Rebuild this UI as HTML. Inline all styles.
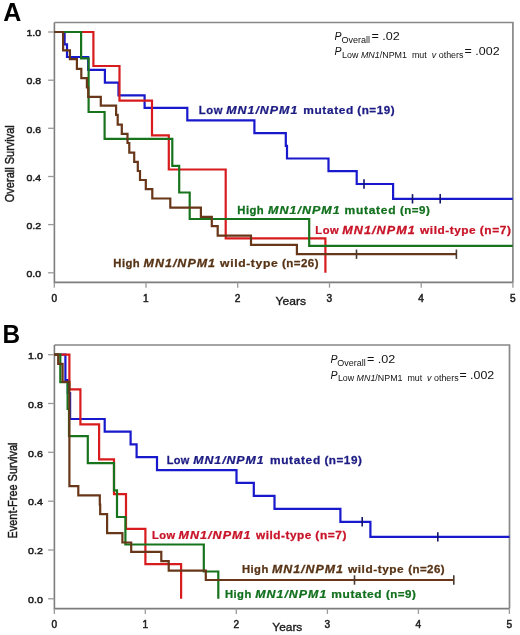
<!DOCTYPE html><html><head><meta charset="utf-8"><style>html,body{margin:0;padding:0;background:#fff;}svg{display:block;}</style></head><body>
<svg style="will-change:transform" width="520" height="635" viewBox="0 0 520 635" font-family='"Liberation Sans", sans-serif'>
<path d="M54.4 22.5 H512.9 V282.4" fill="none" stroke="#888" stroke-width="1.7"/>
<path d="M54.4 22.5 V282.4 H512.9" fill="none" stroke="#7c7c7c" stroke-width="1.6"/>
<line x1="48.1" y1="272.8" x2="54.4" y2="272.8" stroke="#9a9a9a" stroke-width="1.3"/>
<text x="26.4" y="277.0" font-size="9.70" font-weight="normal" font-style="normal" fill="#222" text-anchor="start" textLength="14.6" lengthAdjust="spacingAndGlyphs" stroke="#222" stroke-width="0.5">0.0</text>
<line x1="48.1" y1="224.6" x2="54.4" y2="224.6" stroke="#9a9a9a" stroke-width="1.3"/>
<text x="26.4" y="228.8" font-size="9.70" font-weight="normal" font-style="normal" fill="#222" text-anchor="start" textLength="14.6" lengthAdjust="spacingAndGlyphs" stroke="#222" stroke-width="0.5">0.2</text>
<line x1="48.1" y1="176.5" x2="54.4" y2="176.5" stroke="#9a9a9a" stroke-width="1.3"/>
<text x="26.4" y="180.7" font-size="9.70" font-weight="normal" font-style="normal" fill="#222" text-anchor="start" textLength="14.6" lengthAdjust="spacingAndGlyphs" stroke="#222" stroke-width="0.5">0.4</text>
<line x1="48.1" y1="128.3" x2="54.4" y2="128.3" stroke="#9a9a9a" stroke-width="1.3"/>
<text x="26.4" y="132.5" font-size="9.70" font-weight="normal" font-style="normal" fill="#222" text-anchor="start" textLength="14.6" lengthAdjust="spacingAndGlyphs" stroke="#222" stroke-width="0.5">0.6</text>
<line x1="48.1" y1="80.2" x2="54.4" y2="80.2" stroke="#9a9a9a" stroke-width="1.3"/>
<text x="26.4" y="84.4" font-size="9.70" font-weight="normal" font-style="normal" fill="#222" text-anchor="start" textLength="14.6" lengthAdjust="spacingAndGlyphs" stroke="#222" stroke-width="0.5">0.8</text>
<line x1="48.1" y1="32.0" x2="54.4" y2="32.0" stroke="#9a9a9a" stroke-width="1.3"/>
<text x="26.4" y="36.2" font-size="9.70" font-weight="normal" font-style="normal" fill="#222" text-anchor="start" textLength="14.6" lengthAdjust="spacingAndGlyphs" stroke="#222" stroke-width="0.5">1.0</text>
<line x1="54.3" y1="282.4" x2="54.3" y2="287.7" stroke="#9a9a9a" stroke-width="1.3"/>
<text x="54.2" y="301.5" font-size="10.10" font-weight="normal" font-style="normal" fill="#222" text-anchor="middle" stroke="#222" stroke-width="0.5">0</text>
<line x1="146.0" y1="282.4" x2="146.0" y2="287.7" stroke="#9a9a9a" stroke-width="1.3"/>
<text x="145.9" y="301.5" font-size="10.10" font-weight="normal" font-style="normal" fill="#222" text-anchor="middle" stroke="#222" stroke-width="0.5">1</text>
<line x1="237.7" y1="282.4" x2="237.7" y2="287.7" stroke="#9a9a9a" stroke-width="1.3"/>
<text x="237.6" y="301.5" font-size="10.10" font-weight="normal" font-style="normal" fill="#222" text-anchor="middle" stroke="#222" stroke-width="0.5">2</text>
<line x1="329.5" y1="282.4" x2="329.5" y2="287.7" stroke="#9a9a9a" stroke-width="1.3"/>
<text x="329.4" y="301.5" font-size="10.10" font-weight="normal" font-style="normal" fill="#222" text-anchor="middle" stroke="#222" stroke-width="0.5">3</text>
<line x1="421.2" y1="282.4" x2="421.2" y2="287.7" stroke="#9a9a9a" stroke-width="1.3"/>
<text x="421.1" y="301.5" font-size="10.10" font-weight="normal" font-style="normal" fill="#222" text-anchor="middle" stroke="#222" stroke-width="0.5">4</text>
<line x1="512.9" y1="282.4" x2="512.9" y2="287.7" stroke="#9a9a9a" stroke-width="1.3"/>
<text x="512.8" y="301.5" font-size="10.10" font-weight="normal" font-style="normal" fill="#222" text-anchor="middle" stroke="#222" stroke-width="0.5">5</text>
<text x="3.2" y="21.0" font-size="25.00" font-weight="bold" font-style="normal" fill="#000" text-anchor="start" >A</text>
<text x="0.0" y="0.0" font-size="13.40" font-weight="normal" font-style="normal" fill="#1a1a1a" text-anchor="start" textLength="77.0" lengthAdjust="spacingAndGlyphs" transform="translate(13.8 202.2) rotate(-90)" stroke="#1a1a1a" stroke-width="0.45">Overall Survival</text>
<text x="275.6" y="304.7" font-size="11.80" font-weight="normal" font-style="normal" fill="#1a1a1a" text-anchor="start" textLength="30.4" lengthAdjust="spacingAndGlyphs" stroke="#1a1a1a" stroke-width="0.35">Years</text>
<path d="M54.3 32.0 H64.6 V44.4 H67.0 V57.0 H88.2 V69.9 H104.9 V82.6 H118.5 V95.4 H144.6 V107.8 H187.3 V120.4 H254.4 V133.1 H285.8 V145.8 H287.0 V158.5 H328.5 V171.2 H356.7 V184.0 H393.1 V198.8 H512.8" fill="none" stroke="#1818cc" stroke-width="2.20" stroke-linejoin="miter" stroke-linecap="butt"/>
<line x1="364.0" y1="179.3" x2="364.0" y2="188.7" stroke="#14146a" stroke-width="1.60"/>
<line x1="412.5" y1="194.1" x2="412.5" y2="203.5" stroke="#14146a" stroke-width="1.60"/>
<line x1="440.2" y1="194.1" x2="440.2" y2="203.5" stroke="#14146a" stroke-width="1.60"/>
<path d="M54.3 32.0 H93.4 V66.0 H119.5 V100.6 H152.0 V135.4 H168.8 V169.5 H225.7 V238.4 H325.4 V272.8" fill="none" stroke="#d81c1e" stroke-width="2.20" stroke-linejoin="miter" stroke-linecap="butt"/>
<path d="M54.3 32.0 H81.1 V58.3 H88.6 V112.0 H104.6 V138.9 H172.3 V165.8 H179.2 V192.5 H189.7 V219.0 H309.2 V245.9 H512.8" fill="none" stroke="#18741c" stroke-width="2.20" stroke-linejoin="miter" stroke-linecap="butt"/>
<path d="M54.3 32.0 H63.1 V50.4 H69.9 V59.2 H76.9 V68.9 H81.3 V78.2 H86.9 V87.5 H88.2 V96.8 H100.8 V105.6 H116.1 V114.8 H117.7 V124.6 H121.8 V133.8 H127.5 V143.0 H129.3 V152.6 H134.2 V161.8 H137.8 V171.0 H140.0 V180.0 H145.8 V189.2 H152.3 V198.5 H170.3 V207.6 H200.9 V216.9 H211.8 V226.2 H217.7 V235.7 H251.0 V244.8 H296.9 V254.2 H456.4" fill="none" stroke="#683618" stroke-width="2.20" stroke-linejoin="miter" stroke-linecap="butt"/>
<line x1="356.5" y1="249.5" x2="356.5" y2="258.9" stroke="#4a3a30" stroke-width="1.60"/>
<line x1="456.4" y1="249.5" x2="456.4" y2="258.9" stroke="#4a3a30" stroke-width="1.60"/>
<text x="183.34" y="113.9" font-size="10.40" font-weight="bold" fill="#1c1c84" stroke="#1c1c84" stroke-width="0.25" textLength="21.86" lengthAdjust="spacing" transform="scale(1.084 1)">Low</text>
<text x="189.69" y="113.9" font-size="10.40" font-weight="bold" fill="#1c1c84" stroke="#1c1c84" stroke-width="0.25" textLength="59.51" lengthAdjust="spacing" transform="scale(1.193 1)"><tspan font-style="italic">MN1/NPM1</tspan></text>
<text x="265.02" y="113.9" font-size="10.40" font-weight="bold" fill="#1c1c84" stroke="#1c1c84" stroke-width="0.25" textLength="43.81" lengthAdjust="spacing" transform="scale(1.144 1)">mutated</text>
<text x="318.51" y="113.9" font-size="10.40" font-weight="bold" fill="#1c1c84" stroke="#1c1c84" stroke-width="0.25" textLength="33.15" lengthAdjust="spacing" transform="scale(1.122 1)">(n=19)</text>
<text x="218.51" y="214.2" font-size="10.40" font-weight="bold" fill="#12701e" stroke="#12701e" stroke-width="0.25" textLength="24.31" lengthAdjust="spacing" transform="scale(1.086 1)">High</text>
<text x="223.39" y="214.2" font-size="10.40" font-weight="bold" fill="#12701e" stroke="#12701e" stroke-width="0.25" textLength="59.68" lengthAdjust="spacing" transform="scale(1.200 1)"><tspan font-style="italic">MN1/NPM1</tspan></text>
<text x="297.83" y="214.2" font-size="10.40" font-weight="bold" fill="#12701e" stroke="#12701e" stroke-width="0.25" textLength="44.08" lengthAdjust="spacing" transform="scale(1.157 1)">mutated</text>
<text x="359.69" y="214.2" font-size="10.40" font-weight="bold" fill="#12701e" stroke="#12701e" stroke-width="0.25" textLength="26.81" lengthAdjust="spacing" transform="scale(1.112 1)">(n=9)</text>
<text x="293.91" y="234.4" font-size="10.40" font-weight="bold" fill="#c81428" stroke="#c81428" stroke-width="0.25" textLength="21.72" lengthAdjust="spacing" transform="scale(1.073 1)">Low</text>
<text x="283.13" y="234.4" font-size="10.40" font-weight="bold" fill="#c81428" stroke="#c81428" stroke-width="0.25" textLength="59.90" lengthAdjust="spacing" transform="scale(1.209 1)"><tspan font-style="italic">MN1/NPM1</tspan></text>
<text x="368.15" y="234.4" font-size="10.40" font-weight="bold" fill="#c81428" stroke="#c81428" stroke-width="0.25" textLength="48.74" lengthAdjust="spacing" transform="scale(1.141 1)">wild-type</text>
<text x="418.19" y="234.4" font-size="10.40" font-weight="bold" fill="#c81428" stroke="#c81428" stroke-width="0.25" textLength="27.28" lengthAdjust="spacing" transform="scale(1.147 1)">(n=7)</text>
<text x="104.33" y="267.1" font-size="10.40" font-weight="bold" fill="#583416" stroke="#583416" stroke-width="0.25" textLength="24.31" lengthAdjust="spacing" transform="scale(1.086 1)">High</text>
<text x="119.72" y="267.1" font-size="10.40" font-weight="bold" fill="#583416" stroke="#583416" stroke-width="0.25" textLength="59.65" lengthAdjust="spacing" transform="scale(1.199 1)"><tspan font-style="italic">MN1/NPM1</tspan></text>
<text x="188.61" y="267.1" font-size="10.40" font-weight="bold" fill="#583416" stroke="#583416" stroke-width="0.25" textLength="49.34" lengthAdjust="spacing" transform="scale(1.167 1)">wild-type</text>
<text x="254.84" y="267.1" font-size="10.40" font-weight="bold" fill="#583416" stroke="#583416" stroke-width="0.25" textLength="32.89" lengthAdjust="spacing" transform="scale(1.107 1)">(n=26)</text>
<text x="334.6" y="39.7" font-size="10.50" font-weight="normal" font-style="italic" fill="#111" text-anchor="start" >P</text>
<text x="341.5" y="42.5" font-size="8.30" font-weight="normal" font-style="normal" fill="#111" text-anchor="start" textLength="28.6" lengthAdjust="spacingAndGlyphs" >Overall</text>
<text x="371.4" y="39.6" font-size="10.80" font-weight="normal" font-style="normal" fill="#111" text-anchor="start" textLength="28.4" lengthAdjust="spacingAndGlyphs" >= .02</text>
<text x="334.6" y="55.3" font-size="10.50" font-weight="normal" font-style="italic" fill="#111" text-anchor="start" >P</text>
<text x="342.1" y="57.8" font-size="8.30" font-weight="normal" font-style="normal" fill="#111" text-anchor="start" textLength="121.4" lengthAdjust="spacingAndGlyphs" >Low <tspan font-style="italic">MN1</tspan>/NPM1&#160; mut&#160; <tspan font-style="italic">v</tspan> others</text>
<text x="464.6" y="55.4" font-size="10.50" font-weight="normal" font-style="normal" fill="#111" text-anchor="start" textLength="35.0" lengthAdjust="spacingAndGlyphs" >= .002</text>
<path d="M54.4 345.0 H509.5 V608.6" fill="none" stroke="#888" stroke-width="1.7"/>
<path d="M54.4 345.0 V608.6 H509.5" fill="none" stroke="#7c7c7c" stroke-width="1.6"/>
<line x1="48.1" y1="598.8" x2="54.4" y2="598.8" stroke="#9a9a9a" stroke-width="1.3"/>
<text x="28.1" y="603.0" font-size="9.70" font-weight="normal" font-style="normal" fill="#222" text-anchor="start" textLength="14.8" lengthAdjust="spacingAndGlyphs" stroke="#222" stroke-width="0.5">0.0</text>
<line x1="48.1" y1="550.0" x2="54.4" y2="550.0" stroke="#9a9a9a" stroke-width="1.3"/>
<text x="28.1" y="554.2" font-size="9.70" font-weight="normal" font-style="normal" fill="#222" text-anchor="start" textLength="14.8" lengthAdjust="spacingAndGlyphs" stroke="#222" stroke-width="0.5">0.2</text>
<line x1="48.1" y1="501.2" x2="54.4" y2="501.2" stroke="#9a9a9a" stroke-width="1.3"/>
<text x="28.1" y="505.4" font-size="9.70" font-weight="normal" font-style="normal" fill="#222" text-anchor="start" textLength="14.8" lengthAdjust="spacingAndGlyphs" stroke="#222" stroke-width="0.5">0.4</text>
<line x1="48.1" y1="452.3" x2="54.4" y2="452.3" stroke="#9a9a9a" stroke-width="1.3"/>
<text x="28.1" y="456.5" font-size="9.70" font-weight="normal" font-style="normal" fill="#222" text-anchor="start" textLength="14.8" lengthAdjust="spacingAndGlyphs" stroke="#222" stroke-width="0.5">0.6</text>
<line x1="48.1" y1="403.5" x2="54.4" y2="403.5" stroke="#9a9a9a" stroke-width="1.3"/>
<text x="28.1" y="407.7" font-size="9.70" font-weight="normal" font-style="normal" fill="#222" text-anchor="start" textLength="14.8" lengthAdjust="spacingAndGlyphs" stroke="#222" stroke-width="0.5">0.8</text>
<line x1="48.1" y1="354.7" x2="54.4" y2="354.7" stroke="#9a9a9a" stroke-width="1.3"/>
<text x="28.1" y="358.9" font-size="9.70" font-weight="normal" font-style="normal" fill="#222" text-anchor="start" textLength="14.8" lengthAdjust="spacingAndGlyphs" stroke="#222" stroke-width="0.5">1.0</text>
<line x1="54.3" y1="608.6" x2="54.3" y2="613.9" stroke="#9a9a9a" stroke-width="1.3"/>
<text x="54.2" y="628.0" font-size="10.10" font-weight="normal" font-style="normal" fill="#222" text-anchor="middle" stroke="#222" stroke-width="0.5">0</text>
<line x1="145.3" y1="608.6" x2="145.3" y2="613.9" stroke="#9a9a9a" stroke-width="1.3"/>
<text x="145.2" y="628.0" font-size="10.10" font-weight="normal" font-style="normal" fill="#222" text-anchor="middle" stroke="#222" stroke-width="0.5">1</text>
<line x1="236.3" y1="608.6" x2="236.3" y2="613.9" stroke="#9a9a9a" stroke-width="1.3"/>
<text x="236.2" y="628.0" font-size="10.10" font-weight="normal" font-style="normal" fill="#222" text-anchor="middle" stroke="#222" stroke-width="0.5">2</text>
<line x1="327.4" y1="608.6" x2="327.4" y2="613.9" stroke="#9a9a9a" stroke-width="1.3"/>
<text x="327.3" y="628.0" font-size="10.10" font-weight="normal" font-style="normal" fill="#222" text-anchor="middle" stroke="#222" stroke-width="0.5">3</text>
<line x1="418.4" y1="608.6" x2="418.4" y2="613.9" stroke="#9a9a9a" stroke-width="1.3"/>
<text x="418.3" y="628.0" font-size="10.10" font-weight="normal" font-style="normal" fill="#222" text-anchor="middle" stroke="#222" stroke-width="0.5">4</text>
<line x1="509.4" y1="608.6" x2="509.4" y2="613.9" stroke="#9a9a9a" stroke-width="1.3"/>
<text x="509.3" y="628.0" font-size="10.10" font-weight="normal" font-style="normal" fill="#222" text-anchor="middle" stroke="#222" stroke-width="0.5">5</text>
<text x="2.6" y="343.4" font-size="25.00" font-weight="bold" font-style="normal" fill="#000" text-anchor="start" textLength="17.6" lengthAdjust="spacingAndGlyphs" >B</text>
<text x="0.0" y="0.0" font-size="13.20" font-weight="normal" font-style="normal" fill="#1a1a1a" text-anchor="start" textLength="96.0" lengthAdjust="spacingAndGlyphs" transform="translate(17.0 538.5) rotate(-90)" stroke="#1a1a1a" stroke-width="0.45">Event-Free Survival</text>
<text x="272.3" y="630.7" font-size="11.80" font-weight="normal" font-style="normal" fill="#1a1a1a" text-anchor="start" textLength="30.0" lengthAdjust="spacingAndGlyphs" stroke="#1a1a1a" stroke-width="0.35">Years</text>
<path d="M54.3 354.7 H65.4 V380.2 H67.8 V393.0 H70.1 V419.0 H104.7 V431.6 H130.6 V444.4 H136.6 V457.2 H157.0 V470.1 H236.5 V482.9 H253.8 V495.8 H274.5 V508.9 H340.4 V521.8 H370.4 V536.9 H509.5" fill="none" stroke="#1818cc" stroke-width="2.20" stroke-linejoin="miter" stroke-linecap="butt"/>
<line x1="362.2" y1="517.1" x2="362.2" y2="526.5" stroke="#14146a" stroke-width="1.60"/>
<line x1="437.8" y1="532.2" x2="437.8" y2="541.6" stroke="#14146a" stroke-width="1.60"/>
<path d="M54.3 354.7 H69.4 V389.4 H80.4 V424.4 H99.1 V459.3 H114.0 V494.1 H126.0 V528.9 H145.4 V564.1 H181.1 V598.8" fill="none" stroke="#d81c1e" stroke-width="2.20" stroke-linejoin="miter" stroke-linecap="butt"/>
<path d="M54.3 354.7 H60.3 V382.1 H67.6 V409.0 H69.0 V436.1 H87.8 V463.1 H114.0 V490.4 H117.0 V517.0 H125.4 V544.5 H203.8 V571.5 H218.3 V598.8" fill="none" stroke="#18741c" stroke-width="2.20" stroke-linejoin="miter" stroke-linecap="butt"/>
<path d="M54.3 354.7 H58.2 V363.9 H62.6 V381.9 H69.4 V486.1 H78.3 V495.4 H99.8 V504.7 H100.2 V514.2 H107.1 V533.2 H122.4 V542.5 H131.2 V551.8 H161.3 V561.2 H168.7 V570.7 H205.8 V580.0 H453.8" fill="none" stroke="#683618" stroke-width="2.20" stroke-linejoin="miter" stroke-linecap="butt"/>
<line x1="354.5" y1="575.3" x2="354.5" y2="584.7" stroke="#4a3a30" stroke-width="1.60"/>
<line x1="453.8" y1="575.3" x2="453.8" y2="584.7" stroke="#4a3a30" stroke-width="1.60"/>
<text x="157.51" y="464.1" font-size="10.40" font-weight="bold" fill="#1c1c84" stroke="#1c1c84" stroke-width="0.25" textLength="21.54" lengthAdjust="spacing" transform="scale(1.058 1)">Low</text>
<text x="162.94" y="464.1" font-size="10.40" font-weight="bold" fill="#1c1c84" stroke="#1c1c84" stroke-width="0.25" textLength="59.34" lengthAdjust="spacing" transform="scale(1.186 1)"><tspan font-style="italic">MN1/NPM1</tspan></text>
<text x="235.77" y="464.1" font-size="10.40" font-weight="bold" fill="#1c1c84" stroke="#1c1c84" stroke-width="0.25" textLength="43.84" lengthAdjust="spacing" transform="scale(1.145 1)">mutated</text>
<text x="288.10" y="464.1" font-size="10.40" font-weight="bold" fill="#1c1c84" stroke="#1c1c84" stroke-width="0.25" textLength="33.22" lengthAdjust="spacing" transform="scale(1.126 1)">(n=19)</text>
<text x="142.46" y="539.0" font-size="10.40" font-weight="bold" fill="#c81428" stroke="#c81428" stroke-width="0.25" textLength="21.65" lengthAdjust="spacing" transform="scale(1.067 1)">Low</text>
<text x="148.59" y="539.0" font-size="10.40" font-weight="bold" fill="#c81428" stroke="#c81428" stroke-width="0.25" textLength="59.74" lengthAdjust="spacing" transform="scale(1.202 1)"><tspan font-style="italic">MN1/NPM1</tspan></text>
<text x="225.45" y="539.0" font-size="10.40" font-weight="bold" fill="#c81428" stroke="#c81428" stroke-width="0.25" textLength="48.61" lengthAdjust="spacing" transform="scale(1.136 1)">wild-type</text>
<text x="274.90" y="539.0" font-size="10.40" font-weight="bold" fill="#c81428" stroke="#c81428" stroke-width="0.25" textLength="27.28" lengthAdjust="spacing" transform="scale(1.147 1)">(n=7)</text>
<text x="223.91" y="573.3" font-size="10.40" font-weight="bold" fill="#583416" stroke="#583416" stroke-width="0.25" textLength="24.24" lengthAdjust="spacing" transform="scale(1.081 1)">High</text>
<text x="228.64" y="573.3" font-size="10.40" font-weight="bold" fill="#583416" stroke="#583416" stroke-width="0.25" textLength="59.43" lengthAdjust="spacing" transform="scale(1.190 1)"><tspan font-style="italic">MN1/NPM1</tspan></text>
<text x="305.04" y="573.3" font-size="10.40" font-weight="bold" fill="#583416" stroke="#583416" stroke-width="0.25" textLength="48.74" lengthAdjust="spacing" transform="scale(1.141 1)">wild-type</text>
<text x="368.71" y="573.3" font-size="10.40" font-weight="bold" fill="#583416" stroke="#583416" stroke-width="0.25" textLength="32.89" lengthAdjust="spacing" transform="scale(1.107 1)">(n=26)</text>
<text x="208.18" y="598.0" font-size="10.40" font-weight="bold" fill="#12701e" stroke="#12701e" stroke-width="0.25" textLength="24.24" lengthAdjust="spacing" transform="scale(1.081 1)">High</text>
<text x="214.00" y="598.0" font-size="10.40" font-weight="bold" fill="#12701e" stroke="#12701e" stroke-width="0.25" textLength="59.51" lengthAdjust="spacing" transform="scale(1.193 1)"><tspan font-style="italic">MN1/NPM1</tspan></text>
<text x="288.55" y="598.0" font-size="10.40" font-weight="bold" fill="#12701e" stroke="#12701e" stroke-width="0.25" textLength="43.90" lengthAdjust="spacing" transform="scale(1.148 1)">mutated</text>
<text x="347.10" y="598.0" font-size="10.40" font-weight="bold" fill="#12701e" stroke="#12701e" stroke-width="0.25" textLength="26.81" lengthAdjust="spacing" transform="scale(1.112 1)">(n=9)</text>
<text x="330.5" y="363.1" font-size="10.50" font-weight="normal" font-style="italic" fill="#111" text-anchor="start" >P</text>
<text x="337.3" y="365.9" font-size="8.30" font-weight="normal" font-style="normal" fill="#111" text-anchor="start" textLength="28.4" lengthAdjust="spacingAndGlyphs" >Overall</text>
<text x="367.0" y="363.0" font-size="10.80" font-weight="normal" font-style="normal" fill="#111" text-anchor="start" textLength="28.4" lengthAdjust="spacingAndGlyphs" >= .02</text>
<text x="330.5" y="378.8" font-size="10.50" font-weight="normal" font-style="italic" fill="#111" text-anchor="start" >P</text>
<text x="337.9" y="381.3" font-size="8.30" font-weight="normal" font-style="normal" fill="#111" text-anchor="start" textLength="120.8" lengthAdjust="spacingAndGlyphs" >Low <tspan font-style="italic">MN1</tspan>/NPM1&#160; mut&#160; <tspan font-style="italic">v</tspan> others</text>
<text x="459.4" y="378.6" font-size="10.50" font-weight="normal" font-style="normal" fill="#111" text-anchor="start" textLength="34.8" lengthAdjust="spacingAndGlyphs" >= .002</text>
</svg></body></html>
